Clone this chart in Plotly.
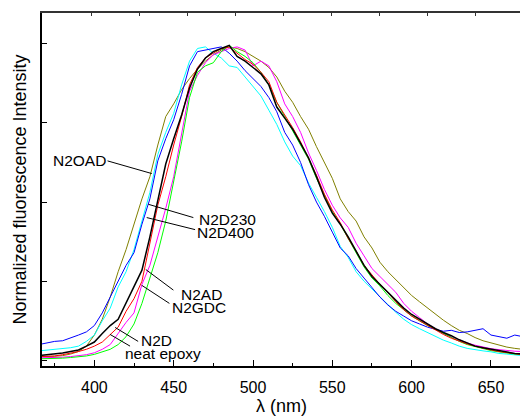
import plotly.graph_objects as go

# Wavelength grid (nm)
wavelength = list(range(365, 671, 5))

# Normalized fluorescence intensity
n2oad = [0.012, 0.012, 0.013, 0.015, 0.020, 0.028, 0.045, 0.080, 0.130, 0.200,
         0.280, 0.350, 0.430, 0.510, 0.580, 0.680, 0.770, 0.810, 0.855, 0.890,
         0.920, 0.945, 0.965, 0.980, 0.990, 0.985, 0.975, 0.960, 0.945, 0.925,
         0.895, 0.850, 0.815, 0.770, 0.730, 0.675, 0.625, 0.575, 0.510, 0.470,
         0.440, 0.390, 0.355, 0.310, 0.280, 0.255, 0.230, 0.205, 0.185, 0.165,
         0.145, 0.127, 0.110, 0.095, 0.085, 0.072, 0.062, 0.055, 0.048, 0.042,
         0.038, 0.035]
n2d230 = [0.050, 0.055, 0.060, 0.062, 0.070, 0.080, 0.090, 0.110, 0.150, 0.200,
          0.250, 0.300, 0.340, 0.430, 0.510, 0.630, 0.700, 0.760, 0.840, 0.930,
          0.975, 0.980, 0.985, 0.990, 0.970, 0.945, 0.915, 0.890, 0.865, 0.830,
          0.785, 0.720, 0.680, 0.625, 0.555, 0.500, 0.455, 0.405, 0.355, 0.330,
          0.290, 0.260, 0.230, 0.200, 0.175, 0.155, 0.140, 0.125, 0.115, 0.105,
          0.098, 0.092, 0.095, 0.088, 0.090, 0.095, 0.100, 0.080, 0.075, 0.070,
          0.080, 0.075]
n2d400 = [0.030, 0.032, 0.035, 0.038, 0.040, 0.045, 0.060, 0.080, 0.125, 0.165,
          0.232, 0.280, 0.350, 0.440, 0.530, 0.650, 0.720, 0.780, 0.870, 0.945,
          0.985, 0.990, 0.970, 0.955, 0.930, 0.925, 0.895, 0.865, 0.835, 0.790,
          0.745, 0.690, 0.645, 0.615, 0.560, 0.515, 0.470, 0.420, 0.360, 0.325,
          0.280, 0.250, 0.225, 0.200, 0.175, 0.152, 0.130, 0.113, 0.100, 0.088,
          0.075, 0.064, 0.055, 0.045, 0.038, 0.033, 0.030, 0.027, 0.022, 0.020,
          0.017, 0.015]
n2gdc = [0.008, 0.008, 0.009, 0.010, 0.012, 0.015, 0.018, 0.024, 0.035, 0.050,
         0.085, 0.120, 0.150, 0.240, 0.300, 0.390, 0.480, 0.580, 0.720, 0.850,
         0.900, 0.940, 0.965, 0.975, 0.985, 0.990, 0.980, 0.930, 0.945, 0.930,
         0.880, 0.810, 0.770, 0.720, 0.655, 0.600, 0.540, 0.490, 0.450, 0.420,
         0.370, 0.330, 0.290, 0.265, 0.240, 0.215, 0.180, 0.155, 0.135, 0.115,
         0.100, 0.085, 0.075, 0.064, 0.055, 0.048, 0.042, 0.037, 0.034, 0.031,
         0.029, 0.028]
neat_epoxy = [0.005, 0.005, 0.006, 0.007, 0.009, 0.011, 0.014, 0.019, 0.026, 0.035,
              0.050, 0.075, 0.115, 0.180, 0.260, 0.340, 0.440, 0.560, 0.690, 0.830,
              0.910, 0.930, 0.940, 0.975, 0.995, 0.975, 0.960, 0.940, 0.910, 0.870,
              0.815, 0.770, 0.725, 0.680, 0.635, 0.575, 0.520, 0.470, 0.430, 0.385,
              0.340, 0.295, 0.260, 0.235, 0.205, 0.180, 0.160, 0.140, 0.125, 0.110,
              0.098, 0.085, 0.072, 0.060, 0.050, 0.043, 0.036, 0.031, 0.027, 0.023,
              0.020, 0.018]
n2ad = [0.012, 0.012, 0.014, 0.018, 0.022, 0.028, 0.035, 0.045, 0.058, 0.080,
        0.105, 0.155, 0.195, 0.250, 0.370, 0.490, 0.580, 0.680, 0.770, 0.870,
        0.925, 0.955, 0.970, 0.985, 0.990, 0.970, 0.950, 0.935, 0.910, 0.880,
        0.815, 0.775, 0.735, 0.690, 0.640, 0.585, 0.525, 0.475, 0.435, 0.385,
        0.345, 0.300, 0.270, 0.240, 0.215, 0.185, 0.160, 0.140, 0.125, 0.110,
        0.095, 0.082, 0.070, 0.060, 0.052, 0.045, 0.038, 0.033, 0.028, 0.024,
        0.020, 0.018]
n2d = [0.015, 0.017, 0.020, 0.023, 0.028, 0.033, 0.045, 0.058, 0.085, 0.110,
       0.130, 0.180, 0.230, 0.285, 0.390, 0.500, 0.620, 0.700, 0.775, 0.860,
       0.920, 0.955, 0.975, 0.985, 0.995, 0.960, 0.945, 0.925, 0.905, 0.870,
       0.800, 0.765, 0.730, 0.685, 0.640, 0.580, 0.515, 0.465, 0.430, 0.390,
       0.345, 0.300, 0.265, 0.240, 0.215, 0.190, 0.165, 0.145, 0.130, 0.115,
       0.100, 0.088, 0.078, 0.065, 0.055, 0.045, 0.040, 0.035, 0.030, 0.025,
       0.022, 0.020]

series_names = ["N2OAD", "N2D400", "N2D230", "N2GDC", "neat epoxy", "N2AD", "N2D"]
series_values = [n2oad, n2d400, n2d230, n2gdc, neat_epoxy, n2ad, n2d]
series_colors = ["#808000", "#00FFFF", "#0000FF", "#FF00FF", "#00FF00", "#FF0000", "#000000"]
series_widths = [1, 1, 1, 1, 1, 1, 1.5]

x_ticks = [400, 450, 500, 550, 600, 650]
x_minor = [375, 425, 475, 525, 575, 625]
y_ticks = [0, 0.25, 0.5, 0.75, 1.0]
top_ticks = [397.9, 428.2, 458.5, 488.8, 519.1, 549.4, 579.7, 610.0, 640.3]

x_title = "λ (nm)"
y_title = "Normalized fluorescence Intensity"

X_RANGE = [367.0, 668.3]
Y_RANGE = [-0.0177, 1.097]

fig = go.Figure()
for name, vals, col, w in zip(series_names, series_values, series_colors, series_widths):
    fig.add_trace(go.Scatter(x=wavelength, y=vals, mode="lines", name=name,
                             line=dict(color=col, width=w), hoverinfo="skip"))

# helper trace to activate the top axis
fig.add_trace(go.Scatter(x=top_ticks, y=[None] * len(top_ticks), xaxis="x2",
                         mode="lines", showlegend=False, hoverinfo="skip"))

FONT = "Arial, Liberation Sans, sans-serif"

# labels: (text, x, y, xanchor) and leader lines (x0, y0, x1, y1) in data units
labels = [
    ("N2OAD", 407.8, 0.631, "right"),
    ("N2D230", 465.5, 0.446, "left"),
    ("N2D400", 463.8, 0.403, "left"),
    ("N2AD", 467.3, 0.209, "center"),
    ("N2GDC", 466.0, 0.166, "center"),
    ("N2D", 438.9, 0.064, "center"),
    ("neat epoxy", 443.3, 0.022, "center"),
]
leaders = [
    (408.3, 0.630, 436.2, 0.590),
    (434.0, 0.493, 462.4, 0.451),
    (433.0, 0.451, 463.5, 0.413),
    (432.4, 0.287, 449.8, 0.222),
    (429.9, 0.237, 447.3, 0.180),
    (413.1, 0.104, 427.6, 0.060),
    (409.9, 0.082, 422.5, 0.045),
]

for t, x, y, xa in labels:
    fig.add_annotation(x=x, y=y, xref="x", yref="y", text=t, showarrow=False,
                       xanchor=xa, yanchor="middle", borderpad=0,
                       font=dict(family=FONT, size=15.5, color="black"))
for x0, y0, x1, y1 in leaders:
    fig.add_shape(type="line", x0=x0, y0=y0, x1=x1, y1=y1, xref="x", yref="y",
                  line=dict(color="black", width=1))

# axis titles as annotations (pixel-offset from the plot area)
fig.add_annotation(x=0.5, y=0, xref="paper", yref="paper", text=x_title,
                   showarrow=False, xanchor="center", yanchor="middle",
                   yshift=-40, font=dict(family=FONT, size=18, color="black"))
fig.add_annotation(x=0, y=0.5, xref="paper", yref="paper", text=y_title,
                   showarrow=False, textangle=-90, xanchor="center", yanchor="middle",
                   xshift=-23, font=dict(family=FONT, size=18, color="black"))

fig.update_layout(
    width=520, height=417,
    margin=dict(l=42, r=0, t=13, b=51, autoexpand=False),
    plot_bgcolor="white", paper_bgcolor="white",
    showlegend=False,
    font=dict(family=FONT, color="black"),
    xaxis=dict(range=X_RANGE, tickvals=x_ticks, ticktext=[str(v) for v in x_ticks],
               ticks="inside", ticklen=6, tickwidth=1, tickcolor="black",
               minor=dict(tickvals=x_minor, ticks="inside", ticklen=3, tickcolor="black"),
               showline=True, linecolor="black", linewidth=1.5,
               showgrid=False, zeroline=False, automargin=False,
               tickfont=dict(family=FONT, size=16, color="black"),
               ticklabelstandoff=6),
    xaxis2=dict(range=X_RANGE, overlaying="x", side="top", tickvals=top_ticks,
                ticks="inside", ticklen=3, tickcolor="#333333", showticklabels=False,
                showline=True, linecolor="#333333", linewidth=1.5,
                showgrid=False, zeroline=False, automargin=False),
    yaxis=dict(range=Y_RANGE, tickvals=y_ticks, showticklabels=False,
               ticks="inside", ticklen=5, tickwidth=1, tickcolor="black",
               showline=True, linecolor="black", linewidth=1.5,
               showgrid=False, zeroline=False, automargin=False),
)

fig.write_html("out.html", config={"displayModeBar": False},
               post_script="document.body.style.margin='0';document.body.style.overflow='hidden';")
